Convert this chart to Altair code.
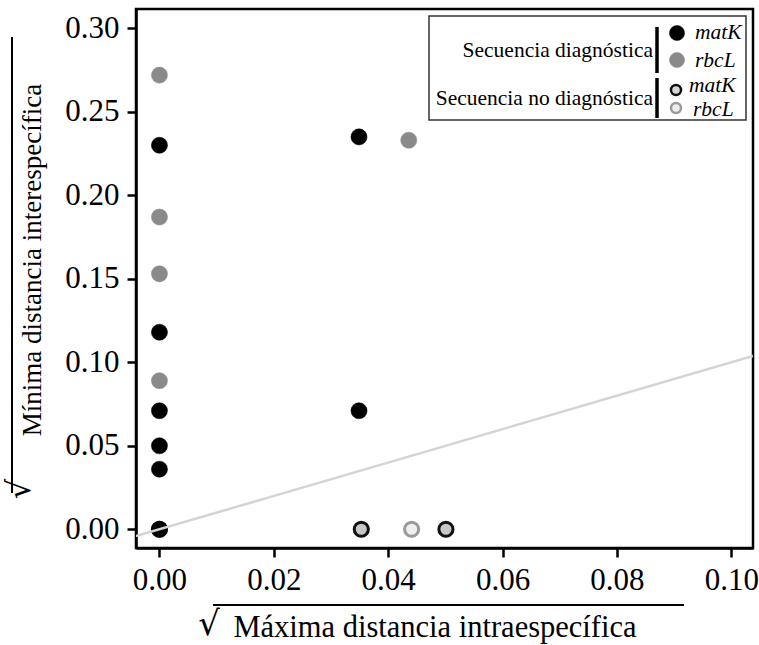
import altair as alt
import pandas as pd

FONT = "Liberation Serif"

# ---- data ----
diag_matK_x = [0.0, 0.0, 0.0, 0.0, 0.0, 0.0349, 0.0349, 0.0]
diag_matK_y = [0.230, 0.118, 0.071, 0.050, 0.036, 0.235, 0.071, 0.0]
diag_rbcL_x = [0.0, 0.0, 0.0, 0.0, 0.0436]
diag_rbcL_y = [0.272, 0.187, 0.153, 0.089, 0.233]
nodiag_matK_x = [0.0, 0.0353, 0.0501]
nodiag_matK_y = [0.0, 0.0, 0.0]
nodiag_rbcL_x = [0.0441]
nodiag_rbcL_y = [0.0]

x_ticks = [0.0, 0.02, 0.04, 0.06, 0.08, 0.10]
y_ticks = [0.0, 0.05, 0.10, 0.15, 0.20, 0.25, 0.30]
x_domain = [-0.0041, 0.1038]
y_domain = [-0.0112, 0.3116]

x_title = "Máxima distancia intraespecífica"
y_title = "Mínima distancia interespecífica"
legend_groups = ["Secuencia diagnóstica", "Secuencia no diagnóstica"]
legend_genes = ["matK", "rbcL"]

W, H = 617, 539

def frame(xs, ys, g):
    return pd.DataFrame({"x": xs, "y": ys, "g": g})

nd = pd.concat([frame(nodiag_matK_x, nodiag_matK_y, "nd_matK"),
                frame(nodiag_rbcL_x, nodiag_rbcL_y, "nd_rbcL")])
dg = pd.concat([frame(diag_rbcL_x, diag_rbcL_y, "d_rbcL"),
                frame(diag_matK_x, diag_matK_y, "d_matK")])

xs = alt.Scale(domain=x_domain, nice=False, zero=False)
ys = alt.Scale(domain=y_domain, nice=False, zero=False)
X = alt.X("x:Q", scale=xs,
          axis=alt.Axis(values=x_ticks, format=".2f", title=None))
Y = alt.Y("y:Q", scale=ys,
          axis=alt.Axis(values=y_ticks, format=".2f", title=None))

cats = ["d_matK", "d_rbcL", "nd_matK", "nd_rbcL"]
fills = ["#000000", "#8a8a8a", "#c8c8c8", "#eeeeee"]
strokes = ["#000000", "#8a8a8a", "#111111", "#9a9a9a"]
fill_enc = alt.Fill("g:N", scale=alt.Scale(domain=cats, range=fills), legend=None)
stroke_enc = alt.Stroke("g:N", scale=alt.Scale(domain=cats, range=strokes), legend=None)

nd_pts = alt.Chart(nd).mark_point(shape="circle", filled=True, size=200,
                                   strokeWidth=3, opacity=1).encode(
    x=X, y=Y, fill=fill_enc, stroke=stroke_enc)
dg_pts = alt.Chart(dg).mark_point(shape="circle", filled=True, size=260,
                                   strokeWidth=0.5, opacity=1).encode(
    x=X, y=Y, fill=fill_enc, stroke=stroke_enc)

line_df = pd.DataFrame({"x": x_domain})
one_to_one = alt.Chart(line_df).transform_calculate(y="datum.x").mark_line(
    color="#d4d4d4", strokeWidth=2.5, clip=True).encode(x=X, y=Y)

one = pd.DataFrame({"a": [0]})

def txt(text, x, y, size, align="center", baseline="middle", angle=0,
        style="normal", font=FONT):
    kw = dict(text=text, fontSize=size, align=align, baseline=baseline,
              font=font, color="black", fontStyle=style)
    if angle:
        kw["angle"] = angle
    return alt.Chart(one).mark_text(**kw).encode(x=alt.value(x), y=alt.value(y))

def rule(x1, y1, x2, y2, w=2, color="black"):
    return alt.Chart(one).mark_rule(color=color, strokeWidth=w).encode(
        x=alt.value(x1), x2=alt.value(x2), y=alt.value(y1), y2=alt.value(y2))

# axis titles with radical signs
titles = [
    txt(x_title, 299, 619, 30.5),
    txt("√", 73, 616, 34, font="DejaVu Serif"),
    rule(77, 596, 548, 596, 2),
    txt(y_title, -103, 251, 27, angle=270),
    txt("√", -116, 480, 32, angle=270, font="DejaVu Serif"),
    rule(-124, 28, -124, 484, 2),
]

# custom legend
box = alt.Chart(one).mark_rect(fill="white", stroke="#333333", strokeWidth=1.5).encode(
    x=alt.value(293), x2=alt.value(610), y=alt.value(7), y2=alt.value(111))
leg = [
    box,
    txt(legend_groups[0], 517, 48, 21.5, align="right", baseline="alphabetic"),
    txt(legend_groups[1], 517, 96, 21.5, align="right", baseline="alphabetic"),
    rule(521, 18, 521, 64, 3.5),
    rule(521, 69, 521, 109, 3.5),
    alt.Chart(one).mark_point(shape="circle", filled=True, size=230, fill="#000000",
                              stroke="#000000", strokeWidth=0.5, opacity=1).encode(
        x=alt.value(541), y=alt.value(24)),
    alt.Chart(one).mark_point(shape="circle", filled=True, size=230, fill="#8a8a8a",
                              stroke="#8a8a8a", strokeWidth=0.5, opacity=1).encode(
        x=alt.value(541), y=alt.value(51)),
    alt.Chart(one).mark_point(shape="circle", filled=True, size=100, fill="#d6d6d6",
                              stroke="#111111", strokeWidth=2.5, opacity=1).encode(
        x=alt.value(540), y=alt.value(81)),
    alt.Chart(one).mark_point(shape="circle", filled=True, size=100, fill="#eeeeee",
                              stroke="#9a9a9a", strokeWidth=2.5, opacity=1).encode(
        x=alt.value(540), y=alt.value(99)),
    txt(legend_genes[0], 559, 30, 21.5, align="left", baseline="alphabetic", style="italic"),
    txt(legend_genes[1], 559, 58, 21.5, align="left", baseline="alphabetic", style="italic"),
    txt(legend_genes[0], 553, 83, 21.5, align="left", baseline="alphabetic", style="italic"),
    txt(legend_genes[1], 557, 107, 21.5, align="left", baseline="alphabetic", style="italic"),
]

chart = alt.layer(nd_pts, dg_pts, one_to_one, *leg, *titles).properties(
    width=W, height=H,
    autosize=alt.AutoSizeParams(type="none"),
    padding={"left": 136, "top": 9, "right": 6, "bottom": 97},
).configure(background="white").configure_view(
    stroke="black", strokeWidth=2.5
).configure_axis(
    labelFont=FONT, labelFontSize=31, labelColor="black",
    domainColor="black", domainWidth=2.5, tickColor="black", tickWidth=2.5,
    tickSize=9, labelPadding=8, grid=False,
)

chart.save("out.html", embed_options={"renderer": "svg", "actions": False})
